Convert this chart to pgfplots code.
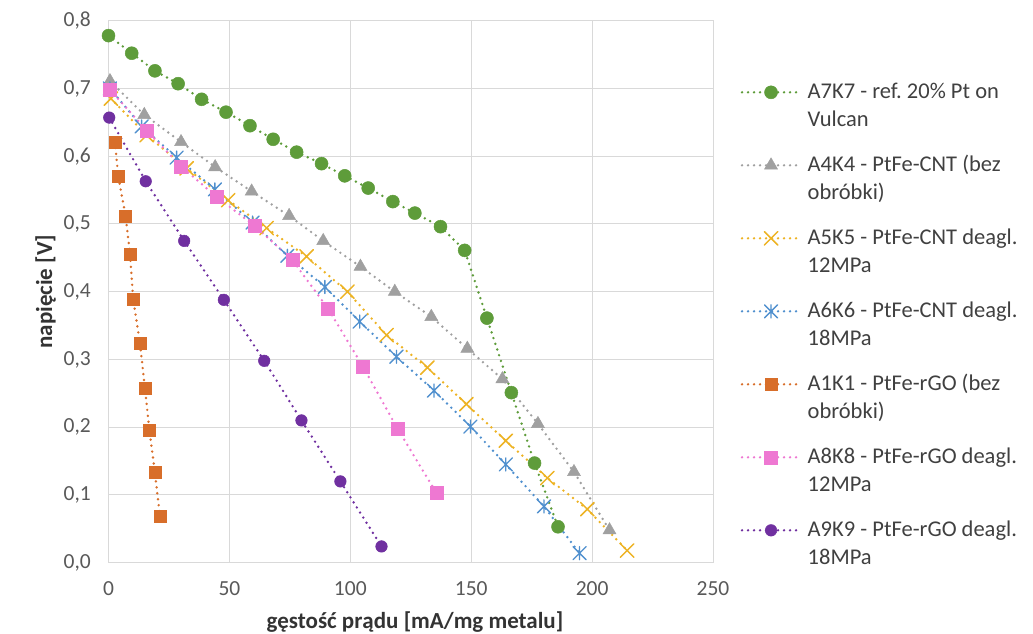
\documentclass[border=0pt]{standalone}
\usepackage{pgfplots}
\pgfplotsset{compat=1.18}
\usepackage{fontspec}
\setmainfont{Carlito}
\frenchspacing
\definecolor{cgreen}{HTML}{5E9C3A}
\definecolor{cgray}{HTML}{A0A0A0}
\definecolor{cyellow}{HTML}{EDB324}
\definecolor{cblue}{HTML}{5090CE}
\definecolor{corange}{HTML}{D86E2A}
\definecolor{cpink}{HTML}{EE78D2}
\definecolor{cpurple}{HTML}{7030A0}
\definecolor{gridc}{HTML}{D9D9D9}
\definecolor{tickc}{HTML}{595959}
\definecolor{legc}{HTML}{404040}
\definecolor{labc}{HTML}{333333}
\pgfdeclareplotmark{xstar}{%
  \pgfpathmoveto{\pgfqpoint{-0.75\pgfplotmarksize}{-0.75\pgfplotmarksize}}%
  \pgfpathlineto{\pgfqpoint{0.75\pgfplotmarksize}{0.75\pgfplotmarksize}}%
  \pgfpathmoveto{\pgfqpoint{-0.75\pgfplotmarksize}{0.75\pgfplotmarksize}}%
  \pgfpathlineto{\pgfqpoint{0.75\pgfplotmarksize}{-0.75\pgfplotmarksize}}%
  \pgfpathmoveto{\pgfqpoint{0pt}{-0.75\pgfplotmarksize}}%
  \pgfpathlineto{\pgfqpoint{0pt}{0.75\pgfplotmarksize}}%
  \pgfusepathqstroke}
\begin{document}
\begin{tikzpicture}[x=1pt,y=1pt]
\useasboundingbox (0,0) rectangle (1033,634);
\begin{axis}[
  at={(108.5pt,71.3pt)}, anchor=south west,
  width=604.5pt, height=542pt, scale only axis,
  xmin=0, xmax=250, ymin=0, ymax=0.8,
  xtick={0,50,100,150,200,250},
  ytick={0,0.1,0.2,0.3,0.4,0.5,0.6,0.7,0.8},
  grid=major, grid style={draw=gridc, line width=1pt},
  axis line style={draw=gridc, line width=1pt},
  major tick length=0pt,
  /pgf/number format/assume math mode=true,
  ticklabel style={font=\fontsize{21.5}{25}\selectfont, text=tickc, inner sep=0pt},
  xticklabel style={yshift=-19pt},
  yticklabel style={xshift=-17.5pt, /pgf/number format/.cd, fixed, fixed zerofill, precision=1, use comma},
  xlabel={gęstość prądu [mA/mg metalu]},
  ylabel={napięcie [V]},
  label style={font=\bfseries\fontsize{23}{27}\selectfont, text=labc},
  xlabel style={at={(axis description cs:0.507,-0.1094)}, anchor=center},
  ylabel style={at={(axis description cs:-0.104,0.5)}, anchor=center},
  legend cell align=left,
  legend style={at={(1.0458,0.9352)}, anchor=north west, draw=none, fill=none,
    inner sep=0pt, outer sep=0pt, row sep=0pt, column sep=6.3pt,
    nodes={inner sep=0pt, align=left, text height=70.5pt, text depth=2.5pt,
      font=\fontsize{22.5}{27.5}\selectfont, text=legc}},
  legend image code/.code={\draw[mark repeat=2,mark phase=2] plot coordinates {(0pt,0pt)(29pt,0pt)(58pt,0pt)};},
  every axis plot/.append style={line width=2.7pt, dash pattern=on 0pt off 6pt, line cap=round},
]
\addplot[color=cgreen, mark=*, mark size=6.5pt, mark options={solid, fill=cgreen, line width=0.5pt}] coordinates {
(0,0.778)(9.6,0.752)(19.2,0.726)(28.8,0.707)(38.5,0.684)(48.6,0.665)(58.5,0.645)(68.1,0.625)(77.8,0.606)(88.1,0.589)(97.7,0.571)(107.4,0.553)(117.6,0.533)(126.7,0.516)(137.3,0.496)(147.3,0.461)(156.5,0.361)(166.6,0.251)(176.2,0.147)(185.9,0.053)};
\addlegendentry{A7K7 - ref. 20\% Pt on\\Vulcan}
\addplot[color=cgray, mark=triangle*, mark size=7.5pt, mark options={solid, fill=cgray, line width=0.5pt}] coordinates {
(0.6,0.711)(14.8,0.661)(30,0.621)(44.1,0.584)(59.2,0.548)(74.7,0.512)(88.8,0.475)(104.2,0.437)(118.4,0.400)(133.5,0.363)(148.4,0.316)(162.9,0.271)(177.6,0.205)(192.5,0.134)(207.2,0.048)};
\addlegendentry{A4K4 - PtFe-CNT (bez\\obróbki)}
\addplot[color=cyellow, mark=x, mark size=9.5pt, mark options={solid, line width=1.5pt}] coordinates {
(1,0.685)(15.8,0.631)(32.3,0.582)(49.5,0.535)(65.4,0.494)(81.9,0.452)(98.8,0.400)(115,0.336)(131.9,0.288)(148,0.234)(164.3,0.180)(181.5,0.125)(198,0.079)(214.5,0.018)};
\addlegendentry{A5K5 - PtFe-CNT deagl.\\12MPa}
\addplot[color=cblue, mark=xstar, mark size=8.7pt, mark options={solid, line width=1.4pt}] coordinates {
(0.6,0.700)(13.7,0.644)(28.2,0.598)(44,0.551)(59.6,0.502)(74,0.453)(89.5,0.407)(103.9,0.356)(119.1,0.304)(134.6,0.254)(149.7,0.201)(164.3,0.145)(180.1,0.083)(194.8,0.014)};
\addlegendentry{A6K6 - PtFe-CNT deagl.\\18MPa}
\addplot[color=corange, mark=square*, mark size=6pt, mark options={solid, fill=corange, line width=0.5pt}] coordinates {
(2.7,0.621)(4,0.571)(7.1,0.511)(8.9,0.456)(10.2,0.389)(13,0.324)(15.1,0.257)(16.9,0.196)(19.2,0.133)(21.3,0.068)};
\addlegendentry{A1K1 - PtFe-rGO (bez\\obróbki)}
\addplot[color=cpink, mark=square*, mark size=6.5pt, mark options={solid, fill=cpink, line width=0.5pt}] coordinates {
(0.6,0.698)(15.8,0.638)(30,0.585)(44.7,0.540)(60.5,0.497)(76,0.447)(90.8,0.375)(105.3,0.289)(119.5,0.198)(135.6,0.103)};
\addlegendentry{A8K8 - PtFe-rGO deagl.\\12MPa}
\addplot[color=cpurple, mark=*, mark size=5.8pt, mark options={solid, fill=cpurple, line width=0.5pt}] coordinates {
(0.3,0.657)(15.4,0.563)(31.3,0.475)(47.7,0.388)(64.4,0.298)(79.8,0.210)(95.9,0.120)(112.9,0.024)};
\addlegendentry{A9K9 - PtFe-rGO deagl.\\18MPa}
\end{axis}
\end{tikzpicture}
\end{document}
